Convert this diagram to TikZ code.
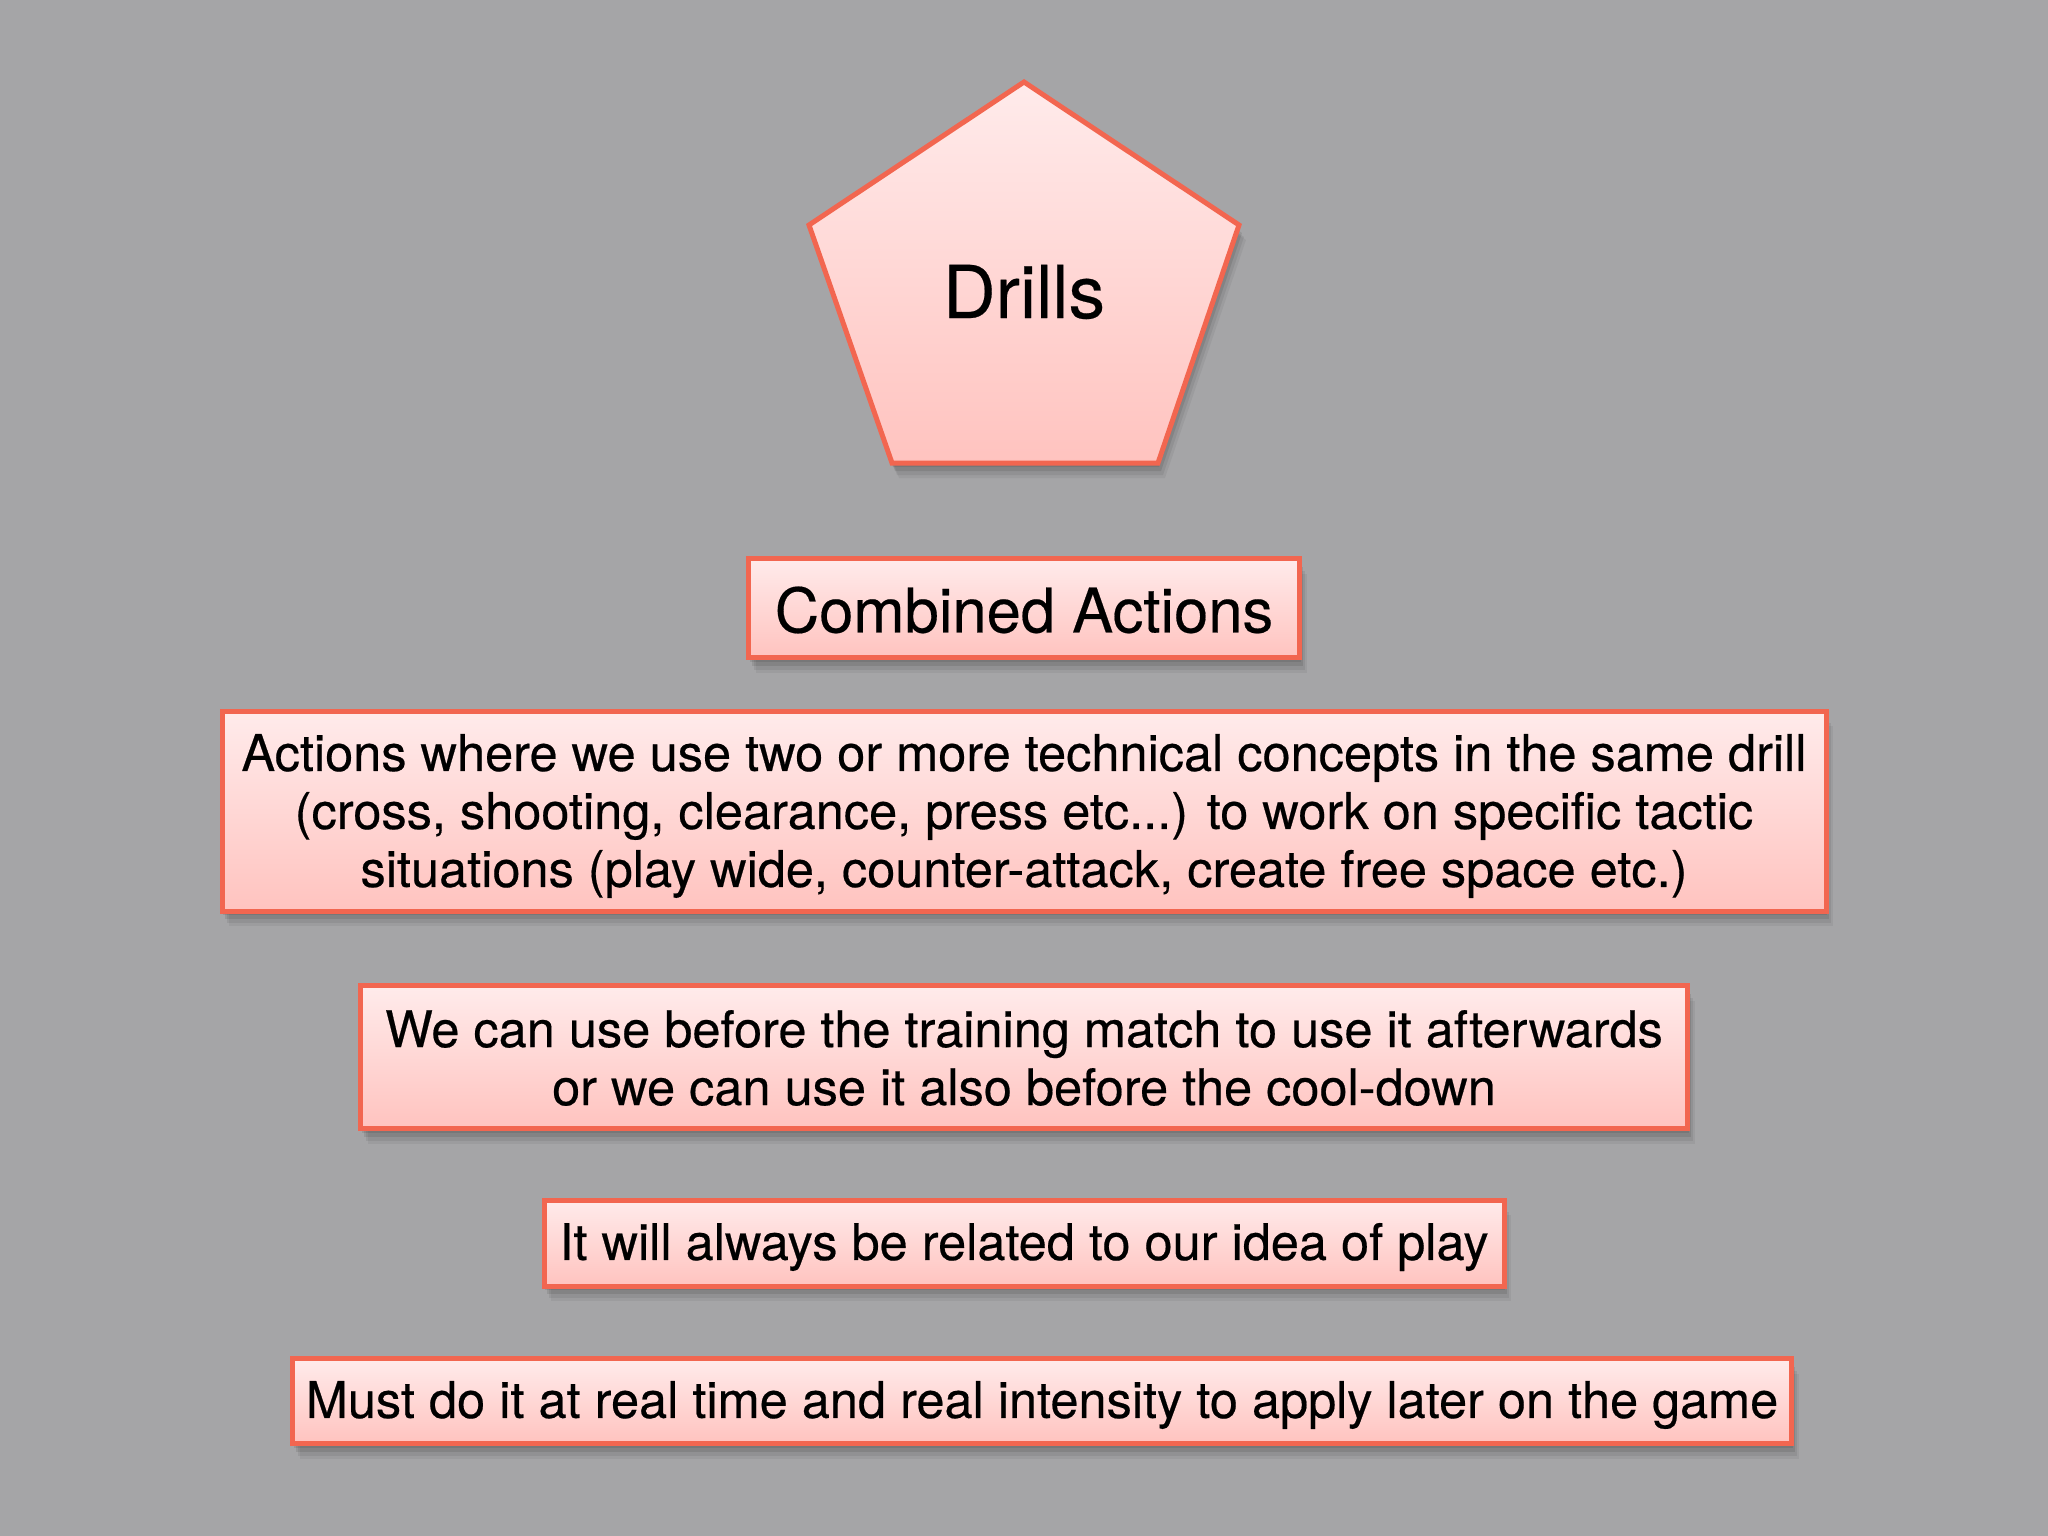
\documentclass[tikz,border=0pt]{standalone}
\usepackage{fontspec}
\setmainfont{TeX Gyre Heros}
\usetikzlibrary{shadows}
\definecolor{bg}{HTML}{A5A5A7}
\definecolor{edge}{HTML}{F26650}
\definecolor{topc}{HTML}{FFEBEB}
\definecolor{botc}{HTML}{FFC3BF}
\tikzset{
  shad/.style={
    general shadow={shadow xshift=1pt, shadow yshift=-4pt, opacity=0.09, fill=black},
    general shadow={shadow xshift=3pt, shadow yshift=-8pt, opacity=0.09, fill=black},
    general shadow={shadow xshift=5pt, shadow yshift=-12pt, opacity=0.07, fill=black},
    general shadow={shadow xshift=7pt, shadow yshift=-15pt, opacity=0.05, fill=black}},
  card/.style={shad, draw=edge, line width=5pt, top color=topc, bottom color=botc,
    rectangle, inner sep=0pt},
  txt/.style={align=center, text=black, inner sep=0pt,
    font=\fontsize{50.5}{58}\selectfont\addfontfeature{FakeBold=0.4}},
}
\begin{document}
\begin{tikzpicture}[x=1pt,y=-1pt]
\fill[bg] (0,0) rectangle (2048,1536);
\useasboundingbox (0,0) rectangle (2048,1536);
% pentagon
\coordinate (pt) at (1024,82);
\coordinate (pl) at (809,225);
\coordinate (pr) at (1239,225);
\coordinate (pbl) at (892,463);
\coordinate (pbr) at (1158,463);
\path[shad, draw=edge, line width=5pt, top color=topc, bottom color=botc, line join=miter]
  (pt) -- (pr) -- (pbr) -- (pbl) -- (pl) -- cycle;
\node[font=\fontsize{73}{80}\selectfont\addfontfeature{FakeBold=0.3}] (drills) at (1024,292) {Drills};
% boxes
\node[card, minimum width=551pt, minimum height=99pt] (comb) at (1024,608) {};
\node[txt, font=\fontsize{61.5}{70}\selectfont\addfontfeature{FakeBold=0.3}] (combt) at (1024,610) {Combined Actions};
\node[card, minimum width=1604pt, minimum height=200pt] (def) at (1024,811) {};
\node[txt] (deft) at (1024,816)
  {Actions where we use two or more technical concepts in the same drill\\
   (cross, shooting, clearance, press etc...) to work on specific tactic\\
   situations (play wide, counter-attack, create free space etc.)};
\node[card, minimum width=1327pt, minimum height=143pt] (when) at (1024,1057) {};
\node[txt] (whent) at (1024,1058)
  {We can use before the training match to use it afterwards\\
   or we can use it also before the cool-down};
\node[card, minimum width=960pt, minimum height=86pt] (idea) at (1024,1243) {};
\node[txt] (ideat) at (1024,1247)
  {It will always be related to our idea of play};
\node[card, minimum width=1499pt, minimum height=85pt] (real) at (1042,1401) {};
\node[txt] (realt) at (1042,1405)
  {Must do it at real time and real intensity to apply later on the game};
\end{tikzpicture}
\end{document}
